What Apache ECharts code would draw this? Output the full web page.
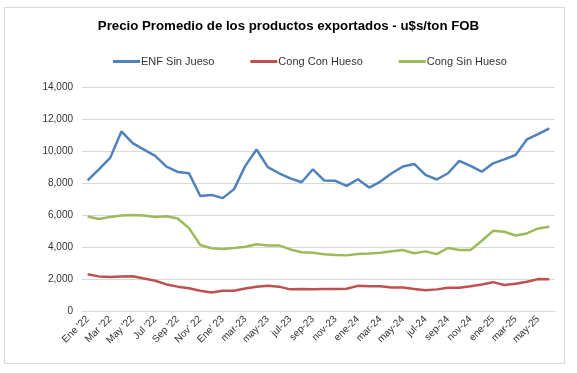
<!DOCTYPE html>
<html>
<head>
<meta charset="utf-8">
<script src="https://cdn.jsdelivr.net/npm/echarts@6/dist/echarts.min.js"></script>
<style>
html,body{margin:0;padding:0;background:#fff;}
#frame{position:absolute;left:4px;top:7px;width:561px;height:357px;border:1px solid #d9d9d9;box-sizing:border-box;}
#chart{position:absolute;left:0;top:0;width:577px;height:373px;}
</style>
</head>
<body>
<div id="frame"></div>
<div id="chart"></div>
<script>
const categories = [
  "Ene '22","Feb '22","Mar '22","Abr '22","May '22","Jun '22","Jul '22","Ago '22","Sep '22","Oct '22","Nov' 22","Dic '22",
  "Ene' 23","feb-23","mar-23","abr-23","may-23","jun-23","jul-23","ago-23","sep-23","oct-23","nov-23","dic-23",
  "ene-24","feb-24","mar-24","abr-24","may-24","jun-24","jul-24","ago-24","sep-24","oct-24","nov-24","dic-24",
  "ene-25","feb-25","mar-25","abr-25","may-25","jun-25"
];
const enfSinHueso = [
  8170, 8870, 9580, 11230, 10500, 10100, 9700, 9030, 8700, 8620, 7200, 7270,
  7070, 7630, 9080, 10100, 9000, 8620, 8300, 8060, 8870, 8170, 8150, 7830,
  8250, 7730, 8100, 8620, 9040, 9200, 8520, 8230, 8620, 9390, 9080, 8720,
  9240, 9490, 9760, 10730, 11060, 11420
];
const congConHueso = [
  2320, 2190, 2150, 2190, 2200, 2060, 1920, 1690, 1550, 1450, 1290, 1180,
  1300, 1300, 1440, 1550, 1600, 1550, 1380, 1400, 1380, 1400, 1400, 1420,
  1600, 1580, 1580, 1500, 1500, 1400, 1320, 1380, 1480, 1480, 1580, 1690,
  1830, 1650, 1730, 1860, 2020, 2010
];
const congSinHueso = [
  5930, 5770, 5900, 5980, 6020, 5980, 5900, 5940, 5800, 5200, 4150, 3940,
  3900, 3960, 4040, 4190, 4120, 4120, 3870, 3690, 3660, 3570, 3520, 3500,
  3580, 3610, 3670, 3750, 3830, 3630, 3750, 3580, 3960, 3830, 3830, 4410,
  5030, 4970, 4740, 4870, 5180, 5290
];
const seriesNames = ["ENF Sin Jueso","Cong Con Hueso","Cong Sin Hueso"];
const colors = ["#4F81BD","#C0504D","#9BBB59"];

const chart = echarts.init(document.getElementById('chart'), null, {renderer:'canvas'});
const mk = (name, data, color) => ({
  name, type:'line', data, symbol:'none', smooth:false,
  lineStyle:{width:2.5, color}, itemStyle:{color}
});
chart.setOption({
  animation:false,
  title:{
    text:'Precio Promedio de los productos exportados - u$s/ton FOB',
    left:'center', top:15,
    textStyle:{fontFamily:'Liberation Sans, Arial, sans-serif', fontSize:13.25, fontWeight:'bold', color:'#000'}
  },
  legend:{
    top:51, left:108, itemGap:36, itemWidth:27, itemHeight:3,
    icon:'rect',
    textStyle:{fontFamily:'Liberation Sans, Arial, sans-serif', fontSize:11, color:'#333', padding:[0,0,0,-4]},
    data:seriesNames
  },
  grid:{left:82, right:22, top:87, bottom:61.5, containLabel:false},
  xAxis:{
    type:'category', data:categories, boundaryGap:true,
    axisLine:{lineStyle:{color:'#d9d9d9'}},
    axisTick:{show:false},
    axisLabel:{interval:1, rotate:45, fontFamily:'Liberation Sans, Arial, sans-serif', fontSize:10, color:'#333', margin:6}
  },
  yAxis:{
    type:'value', min:0, max:14000, interval:2000,
    axisLine:{show:false}, axisTick:{show:false},
    splitLine:{lineStyle:{color:'#d9d9d9'}},
    axisLabel:{fontFamily:'Liberation Sans, Arial, sans-serif', fontSize:10, color:'#333', margin:9,
      formatter: v => v.toLocaleString('en-US')}
  },
  series:[
    mk(seriesNames[0], enfSinHueso, colors[0]),
    mk(seriesNames[1], congConHueso, colors[1]),
    mk(seriesNames[2], congSinHueso, colors[2])
  ]
});
</script>
</body>
</html>
